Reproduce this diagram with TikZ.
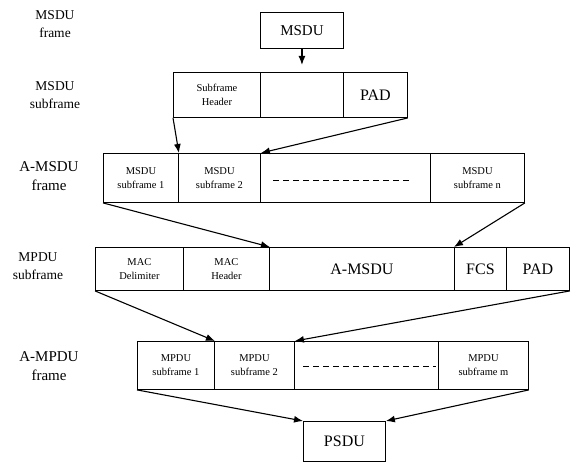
\documentclass[tikz,border=0pt]{standalone}
\usepackage{fontspec}
\setmainfont{Liberation Serif}
\usetikzlibrary{arrows.meta}
\tikzset{
  cell/.style={draw, line width=0.9pt, inner sep=0pt, anchor=north west, align=center},
  small/.style={font=\fontsize{10.5}{14}\selectfont},
  big/.style={font=\fontsize{16}{18}\selectfont},
  lbl/.style={align=center, font=\fontsize{13.5}{18.5}\selectfont},
  lblb/.style={align=center, font=\fontsize{15}{19}\selectfont},
  arr/.style={line width=1.1pt, -{Latex[length=9pt,width=7pt]}},
  dashline/.style={line width=0.9pt, dash pattern=on 6pt off 4pt}
}
\begin{document}
\begin{tikzpicture}[x=1pt,y=-1pt]
\useasboundingbox (0,0) rectangle (574,462);
% left labels
\node[lbl] (l1) at (55,24) {MSDU\\frame};
\node[lbl] (l2) at (55,95) {MSDU\\subframe};
\node[lblb] (l3) at (49,176) {A-MSDU\\frame};
\node[lbl] (l4) at (38,266) {MPDU\\subframe};
\node[lblb] (l5) at (49,366) {A-MPDU\\frame};
% MSDU frame
\node[cell, minimum width=83, minimum height=36, font=\fontsize{15}{18}\selectfont] (msdu) at (260,12) {MSDU};
% MSDU subframe
\node[cell, small, minimum width=87, minimum height=45] (sh) at (173,72) {Subframe\\Header};
\node[cell, minimum width=83, minimum height=45] (sb) at (260,72) {};
\node[cell, big, minimum width=64, minimum height=45] (pad1) at (343,72) {PAD};
% A-MSDU frame
\node[cell, small, minimum width=75, minimum height=49] (a1) at (103,153) {MSDU\\subframe 1};
\node[cell, small, minimum width=82, minimum height=49] (a2) at (178,153) {MSDU\\subframe 2};
\node[cell, minimum width=170, minimum height=49] (ad) at (260,153) {};
\node[cell, small, minimum width=94, minimum height=49] (an) at (430,153) {MSDU\\subframe n};
\draw[dashline] ([xshift=13pt,yshift=-3pt]ad.west) -- ([xshift=-22pt,yshift=-3pt]ad.east);
% MPDU subframe
\node[cell, small, minimum width=88, minimum height=43] (del) at (95,247) {MAC\\Delimiter};
\node[cell, small, minimum width=86, minimum height=43] (hdr) at (183,247) {MAC\\Header};
\node[cell, big, minimum width=185, minimum height=43] (amsdu) at (269,247) {A-MSDU};
\node[cell, big, minimum width=52, minimum height=43] (fcs) at (454,247) {FCS};
\node[cell, big, minimum width=63, minimum height=43] (pad2) at (506,247) {PAD};
% A-MPDU frame
\node[cell, small, minimum width=77, minimum height=48] (p1) at (137,341) {MPDU\\subframe 1};
\node[cell, small, minimum width=80, minimum height=48] (p2) at (214,341) {MPDU\\subframe 2};
\node[cell, minimum width=144, minimum height=48] (pd) at (294,341) {};
\node[cell, small, minimum width=90, minimum height=48] (pm) at (438,341) {MPDU\\subframe m};
\draw[dashline] ([xshift=9pt,yshift=-1pt]pd.west) -- ([xshift=-3pt,yshift=-1pt]pd.east);
% PSDU
\node[cell, big, minimum width=82, minimum height=40] (psdu) at (303,421) {PSDU};
% connectors
\coordinate (m1) at ([yshift=-16pt]msdu.south);
\draw[arr] (msdu.south) -- (m1);
\draw[arr] (sh.south west) -- (a1.north east);
\draw[arr] (pad1.south east) -- (a2.north east);
\draw[arr] (a1.south west) -- (hdr.north east);
\draw[arr] (an.south east) -- (fcs.north west);
\draw[arr] (del.south west) -- (p1.north east);
\draw[arr] (pad2.south east) -- (p2.north east);
\draw[arr] (p1.south west) -- (psdu.north west);
\draw[arr] (pm.south east) -- (psdu.north east);
\end{tikzpicture}
\end{document}
